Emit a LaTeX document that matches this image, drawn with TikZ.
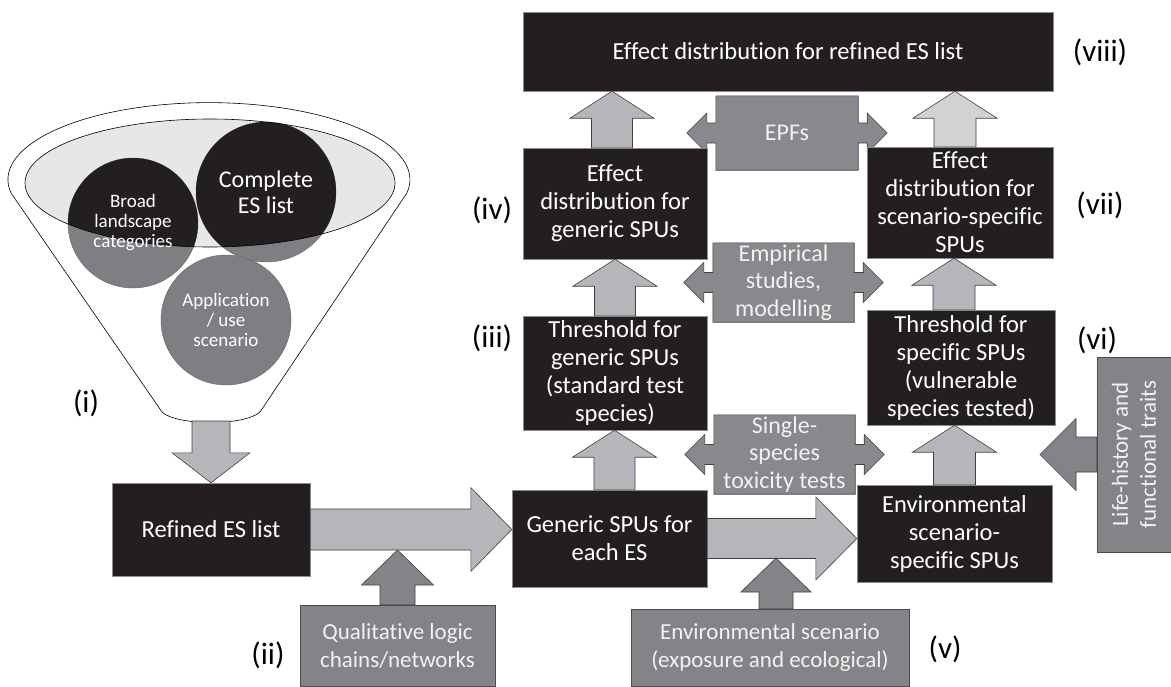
\documentclass[tikz,border=0pt]{standalone}
\usepackage{fontspec}
\setmainfont{Carlito}[Ligatures=NoCommon]
\usetikzlibrary{calc,backgrounds}

\definecolor{boxblack}{HTML}{231F20}
\definecolor{arrlight}{HTML}{B5B6B9}
\definecolor{arrpale}{HTML}{D1D2D4}
\definecolor{calloutgrey}{HTML}{88898C}
\definecolor{inputgrey}{HTML}{838487}
\definecolor{circgrey}{HTML}{7E7F82}
\definecolor{funnelfill}{HTML}{E6E7E8}
\definecolor{softwhite}{HTML}{F2F2F2}

% block arrows: [style]{from}{to}{head half width}{shaft half width}{head length}
\newcommand{\arrup}[6][lightarr]{%
  \path[#1] let \p1=#2, \p2=#3 in
    (\x1-#5pt,\y1) -- (\x1-#5pt,\y2-#6pt) -- (\x1-#4pt,\y2-#6pt) -- (\x1,\y2)
    -- (\x1+#4pt,\y2-#6pt) -- (\x1+#5pt,\y2-#6pt) -- (\x1+#5pt,\y1) -- cycle;}
\newcommand{\arrdown}[6][lightarr]{%
  \path[#1] let \p1=#2, \p2=#3 in
    (\x1-#5pt,\y1) -- (\x1-#5pt,\y2+#6pt) -- (\x1-#4pt,\y2+#6pt) -- (\x1,\y2)
    -- (\x1+#4pt,\y2+#6pt) -- (\x1+#5pt,\y2+#6pt) -- (\x1+#5pt,\y1) -- cycle;}
\newcommand{\arrright}[6][lightarr]{%
  \path[#1] let \p1=#2, \p2=#3 in
    (\x1,\y1+#5pt) -- (\x2-#6pt,\y1+#5pt) -- (\x2-#6pt,\y1+#4pt) -- (\x2,\y1)
    -- (\x2-#6pt,\y1-#4pt) -- (\x2-#6pt,\y1-#5pt) -- (\x1,\y1-#5pt) -- cycle;}
\newcommand{\arrleft}[6][darkarr]{%
  \path[#1] let \p1=#2, \p2=#3 in
    (\x1,\y1+#5pt) -- (\x2+#6pt,\y1+#5pt) -- (\x2+#6pt,\y1+#4pt) -- (\x2,\y1)
    -- (\x2+#6pt,\y1-#4pt) -- (\x2+#6pt,\y1-#5pt) -- (\x1,\y1-#5pt) -- cycle;}
% double-headed callout round a node
\newcommand{\callout}[1]{%
  \path[calloutshape] let \p1=(#1.north west), \p2=(#1.south east), \p3=(#1.center) in
    (\x1,\y1) -- (\x2,\y1) -- (\x2,\y3+10pt) -- (\x2+9pt,\y3+10pt) -- (\x2+9pt,\y3+20pt)
    -- (\x2+29pt,\y3) -- (\x2+9pt,\y3-20pt) -- (\x2+9pt,\y3-10pt) -- (\x2,\y3-10pt)
    -- (\x2,\y2) -- (\x1,\y2) -- (\x1,\y3-10pt) -- (\x1-9pt,\y3-10pt) -- (\x1-9pt,\y3-20pt)
    -- (\x1-29pt,\y3) -- (\x1-9pt,\y3+20pt) -- (\x1-9pt,\y3+10pt) -- (\x1,\y3+10pt) -- cycle;}

\begin{document}
\begin{tikzpicture}[x=1pt, y=-1pt,
blackbox/.style={rectangle, fill=boxblack, draw=black!45, line width=0.4pt, text=white, inner sep=0pt, align=center, font=\fontsize{24.5}{28}\selectfont},
greybox/.style={rectangle, fill=inputgrey, draw=black!70, line width=0.6pt, text=softwhite, inner sep=0pt, align=center, font=\fontsize{23}{28}\selectfont},
callout/.style={rectangle, text=softwhite, inner sep=0pt, align=center, font=\fontsize{24}{27.5}\selectfont},
calloutshape/.style={fill=calloutgrey, draw=black!75, line width=0.6pt},
lightarr/.style={fill=arrlight, draw=black!75, line width=0.6pt},
palearr/.style={fill=arrpale, draw=black!75, line width=0.6pt},
darkarr/.style={fill=inputgrey, draw=black!75, line width=0.6pt},
bubble/.style={circle, inner sep=0pt, text=white, align=center, font=\fontsize{19}{20}\selectfont},
romnum/.style={font=\fontsize{31}{34}\selectfont},
]
\useasboundingbox (0,0) rectangle (1171,686);

\node[blackbox, minimum width=530pt, minimum height=79pt] (viii) at (788,51.5) {Effect distribution for refined ES list};
\node[blackbox, minimum width=184pt, minimum height=111pt] (iv) at (615,203.5) {Effect\\distribution for\\generic SPUs};
\node[blackbox, minimum width=186pt, minimum height=111pt] (vii) at (960,202.5) {Effect\\distribution for\\scenario-specific\\SPUs};
\node[blackbox, minimum width=184pt, minimum height=114pt] (iii) at (615,373) {Threshold for\\generic SPUs\\(standard test\\species)};
\node[blackbox, minimum width=188pt, minimum height=115pt] (vi) at (961,367.5) {Threshold for\\specific SPUs\\(vulnerable\\species tested)};
\node[blackbox, minimum width=195pt, minimum height=97pt] (generic) at (609.5,538.5) {Generic SPUs for\\each ES};
\node[blackbox, minimum width=195pt, minimum height=97pt] (envspec) at (954.5,533.5) {Environmental\\scenario-\\specific SPUs};
\node[blackbox, minimum width=198pt, minimum height=93pt] (refined) at (211,529.5) {Refined ES list};
\node[greybox, minimum width=195pt, minimum height=81pt] (qual) at (397.5,645.5) {Qualitative logic\\chains/networks};
\node[greybox, minimum width=278pt, minimum height=77pt] (envscen) at (770,647.5) {Environmental scenario\\(exposure and ecological)};
\node[greybox, rotate=90, minimum width=195pt, minimum height=74pt] (lifehist) at (1134,454.5) {Life-history and\\functional traits};

\node[callout, minimum width=142pt, minimum height=74pt] (epf) at (787,133) {EPFs};
\node[callout, minimum width=141pt, minimum height=79pt] (emp) at (783.5,282.5) {Empirical\\studies,\\modelling};
\node[callout, minimum width=141pt, minimum height=79pt] (single) at (784.5,454.5) {Single-\\species\\toxicity tests};

\node[bubble, minimum size=130pt] (broad) at (133,223) {Broad\\landscape\\categories};
\node[bubble, minimum size=140pt, font=\fontsize{24}{26}\selectfont] (complete) at (266,192) {Complete\\ES list};
\node[bubble, minimum size=130pt] (appl) at (226,320) {Application\\/ use\\scenario};

\node[romnum] (r1) at (86,403) {(i)};
\node[romnum] (r2) at (268,655) {(ii)};
\node[romnum] (r3) at (492,338) {(iii)};
\node[romnum] (r4) at (492,210) {(iv)};
\node[romnum] (r5) at (945,649) {(v)};
\node[romnum] (r6) at (1097,340) {(vi)};
\node[romnum] (r7) at (1100,205) {(vii)};
\node[romnum] (r8) at (1100,52) {(viii)};

\coordinate (fbot) at (211,421);
\coordinate (qtip) at (397,550);
\coordinate (etip) at (776,558);
\coordinate (ltip) at (1040,453);

\begin{pgfonlayer}{background}
\draw[line width=0.6pt, fill=white] (11,193) arc[start angle=190, end angle=-10, x radius=201pt, y radius=77pt]
  -- (260,412) .. controls (245,426) and (177,426) .. (162,412) -- cycle;
\fill[funnelfill] (210,183) ellipse[x radius=185pt, y radius=64pt];
\filldraw[circgrey, draw=black!60, line width=0.4pt] (broad.center) circle[radius=65pt];
\filldraw[circgrey, draw=black!60, line width=0.4pt] (complete.center) circle[radius=70pt];
\filldraw[circgrey, draw=black!60, line width=0.4pt] (appl.center) circle[radius=65pt];
\begin{scope}
\clip (210,183) ellipse[x radius=185pt, y radius=64pt];
\fill[boxblack] (broad.center) circle[radius=65pt];
\fill[boxblack] (complete.center) circle[radius=70pt];
\end{scope}
\draw[line width=0.6pt] (210,183) ellipse[x radius=185pt, y radius=64pt];
\callout{epf}
\callout{emp}
\callout{single}
\end{pgfonlayer}

\arrdown{(fbot)}{(refined.north)}{39}{19}{30}
\arrright{(refined.east)}{(generic.west)}{42}{20.5}{41}
\arrright{(generic.east)}{(envspec.west)}{41.5}{20}{41}
\arrup[darkarr]{(qual.north)}{(qtip)}{36}{17.5}{35}
\arrup[darkarr]{($(envscen.north)+(6,0)$)}{(etip)}{35}{17}{34}
\arrup{($(generic.north)+(5,0)$)}{(iii.south)}{42}{20.5}{27}
\arrup{(iii.north)}{(iv.south)}{42}{20.5}{27}
\arrup{($(iv.north)+(-3,0)$)}{(viii.south)}{42}{20.5}{27}
\arrup{(envspec.north)}{(vi.south)}{42}{21}{27}
\arrup{($(vi.north)+(-7,0)$)}{(vii.south)}{42}{21}{27}
\arrup[palearr]{($(vii.north)+(-5,0)$)}{(viii.south)}{42}{21}{27}
\arrleft{(lifehist.north)}{(ltip)}{36}{17.5}{36}
\end{tikzpicture}
\end{document}
